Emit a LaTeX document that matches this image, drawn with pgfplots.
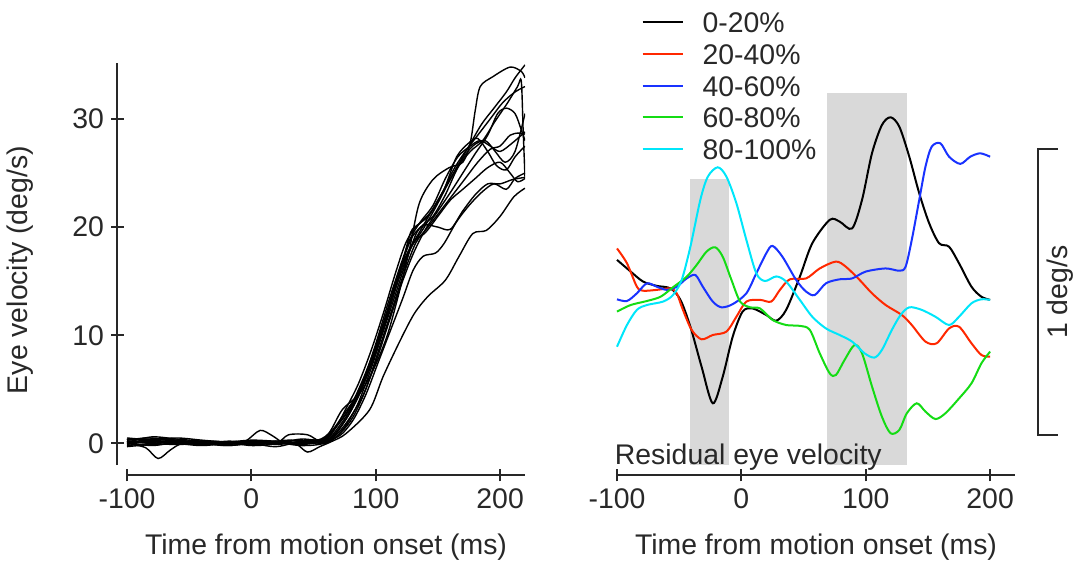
\documentclass[border=0pt]{standalone}
\usepackage{fontspec}
\setmainfont{Liberation Sans}
\usepackage{pgfplots}
\pgfplotsset{compat=1.18}
\newcommand{\myfont}{\fontsize{14.2}{17}\selectfont}
\definecolor{cRed}{RGB}{255,40,0}
\definecolor{cBlue}{RGB}{25,50,255}
\definecolor{cGreen}{RGB}{20,220,20}
\definecolor{cCyan}{RGB}{0,230,250}
\definecolor{cGray}{RGB}{217,217,217}
\definecolor{cText}{RGB}{40,40,40}
\begin{document}
\begin{tikzpicture}
\useasboundingbox (-63.5pt,-49.5pt) rectangle (474pt,232.5pt);
\pgfplotsset{
  common/.style={
    width=199pt, height=200.85pt, scale only axis,
    xmin=-100, xmax=220,
    xtick={-100,0,100,200}, xticklabels={-100,0,100,200},
    tick align=outside, major tick length=6.25pt,
    tick style={line width=1pt, cText},
    tick label style={font=\myfont, text=cText},
    label style={font=\myfont, text=cText},
    xlabel={Time from motion onset (ms)},
    xlabel style={at={(rel axis cs:0.5,-0.2216)}, anchor=base},
  },
  trace/.style={black, line width=0.7pt, smooth, tension=0.5},
  resid/.style={line width=1pt, smooth, tension=0.5},
}
% ---------------- left panel ----------------
\begin{axis}[common,
  ymin=-2.0, ymax=35.15,
  axis lines=left,
  axis line style={-, line width=1pt, draw=cText},
  axis x line shift=5pt,
  axis y line shift=4.85pt,
  ytick={0,10,20,30}, yticklabels={0,10,20,30},
  ylabel={Eye velocity (deg/s)},
  ylabel style={at={(rel axis cs:-0.2676,0.485)}, anchor=center},
]
\addplot[trace] coordinates {(-100,0.3) (-85,0.5) (-70,0.4) (-50,0.2) (-30,0.1) (-10,0) (10,0.1) (30,0.3) (50,0.2) (62,0.9) (73,3.1) (87,4.6) (98,6.8) (109,9.9) (118,13.6) (127,17.9) (135,22.2) (146,24.4) (159,25.5) (170,26.0) (176,27.8) (180,30.8) (184,33.0) (194,33.9) (208,34.8) (217,34.4) (220,33.8)};
\addplot[trace] coordinates {(-100,0.2) (-80,0.1) (-60,0.3) (-40,0) (-20,-0.2) (0,0) (20,0.2) (40,0) (55,0.2) (65,1.2) (75,2.8) (85,4.5) (95,7.0) (105,10.5) (115,14.5) (125,17.5) (135,19.5) (145,21.5) (155,23.5) (165,25.5) (175,27.5) (185,29.5) (195,31.0) (205,32.5) (212,33.8) (220,35.0)};
\addplot[trace] coordinates {(-100,-0.1) (-80,0.3) (-60,0.5) (-40,0.3) (-20,0.1) (0,-0.1) (20,0) (40,0.1) (58,0.3) (68,1.5) (78,3.0) (88,5.0) (98,8.0) (108,11.5) (118,15.5) (128,18.8) (136,20.0) (146,21.0) (156,23.0) (166,25.5) (176,27.0) (186,28.0) (196,29.8) (206,31.5) (214,33.0) (217,33.5) (218.5,29) (220,24.6)};
\addplot[trace] coordinates {(-100,0.4) (-80,0.2) (-60,0) (-40,-0.2) (-20,0) (0,0.2) (20,0.1) (40,-0.2) (58,0) (70,1.0) (80,2.5) (90,4.5) (100,7.5) (110,11.0) (120,14.5) (130,17.5) (140,19.8) (150,21.5) (160,23.2) (170,25.0) (180,26.8) (190,28.5) (198,30.5) (205,31.0) (212,30.5) (217,29.0) (220,28.0)};
\addplot[trace] coordinates {(-100,0) (-85,-0.4) (-75,-1.4) (-65,-0.6) (-55,0) (-30,0.2) (-10,0) (10,0.1) (30,0) (50,0.3) (60,0.5) (70,1.8) (80,3.5) (90,6.0) (100,9.0) (110,12.5) (120,16.0) (128,19.5) (135,20.3) (145,21.5) (155,23.5) (165,26.5) (175,27.8) (182,28.2) (190,27.0) (197,25.7) (205,25.3) (212,26.5) (220,27.5)};
\addplot[trace] coordinates {(-100,0.1) (-80,-0.2) (-60,0.1) (-40,0.2) (-20,-0.1) (-5,0.2) (7,1.2) (17,0.7) (27,0) (40,0.2) (60,0.1) (72,1.0) (82,2.5) (92,5) (102,8.5) (112,12) (122,15.5) (132,18.5) (142,20.0) (152,21.5) (162,23.0) (172,24.5) (182,26.0) (192,27.2) (200,27.5) (208,28.5) (215,28.7) (220,28.6)};
\addplot[trace] coordinates {(-100,0.2) (-80,0) (-60,-0.1) (-40,0) (-20,0.1) (0,-0.2) (20,0) (30,0.8) (45,0.8) (55,0.2) (65,0.3) (75,1.5) (85,3.5) (95,6.5) (105,10.0) (115,13.5) (125,17.0) (133,19.5) (140,20.2) (150,20.0) (160,19.8) (170,21.5) (180,23.0) (190,24.0) (200,24.0) (210,24.4) (220,24.6)};
\addplot[trace] coordinates {(-100,0) (-80,0.2) (-60,0.1) (-40,-0.1) (-20,0) (0,0.1) (20,-0.1) (35,0) (45,-0.8) (55,-0.3) (65,0.2) (76,0.9) (95,3.1) (106,6.2) (120,9.6) (131,12.0) (142,13.6) (156,15.1) (167,17.3) (178,19.4) (189,19.7) (200,21.0) (211,22.8) (220,23.6)};
\addplot[trace] coordinates {(-100,-0.2) (-80,0) (-60,0.2) (-40,0.1) (-20,-0.2) (0,0) (20,0.1) (40,-0.1) (60,0.2) (72,0.8) (82,2.2) (92,4.5) (102,7.5) (112,10.5) (122,13.5) (130,16.0) (138,17.3) (148,17.6) (155,18.5) (165,20.5) (175,22.0) (185,23.2) (195,24.0) (205,23.5) (212,24.5) (220,25.0)};
\addplot[trace] coordinates {(-100,0.3) (-80,0.4) (-60,0.2) (-40,0) (-20,0.1) (0,0.3) (20,0.2) (40,0.1) (58,0.1) (68,1.0) (78,2.6) (88,4.8) (98,7.8) (108,11.3) (118,15.0) (128,18.0) (138,19.8) (148,21.8) (158,24.0) (168,26.0) (178,27.5) (188,28.0) (196,27.0) (204,26.0) (212,27.0) (220,30.5)};
\addplot[trace] coordinates {(-100,-0.3) (-80,-0.1) (-60,0) (-40,0.2) (-20,0.1) (0,0) (20,-0.3) (40,0.2) (60,0.4) (68,1.5) (76,3.2) (86,5.5) (96,8.5) (106,12.0) (116,15.8) (124,18.5) (132,20.0) (142,21.0) (152,22.8) (162,25.2) (172,27.0) (182,28.5) (192,30.0) (202,31.5) (212,32.5) (220,33.0)};
\addplot[trace] coordinates {(-100,0.1) (-80,0.6) (-60,0.4) (-40,0.2) (-20,0) (0,-0.1) (20,0.1) (40,0.3) (60,0.0) (70,1.2) (80,3.0) (90,5.5) (100,8.8) (110,12.5) (120,16.0) (130,18.5) (140,19.5) (150,21.0) (160,22.5) (170,23.5) (180,24.5) (190,25.5) (200,26.0) (208,25.0) (214,24.2) (220,24.5)};
\addplot[trace] coordinates {(-100,0.5) (-80,0.3) (-60,0.1) (-40,-0.1) (-20,0.2) (0,0.1) (20,0) (40,0.4) (60,0.3) (70,1.5) (80,3.2) (90,5.8) (100,9.2) (110,13.0) (120,16.5) (128,19.0) (136,20.5) (146,22.0) (156,24.5) (166,26.5) (176,27.5) (184,28.0) (192,27.5) (200,27.0) (210,27.8) (220,28.8)};
\end{axis}
% ---------------- right panel ----------------
\begin{axis}[common, at={(245pt,0pt)}, anchor=south west,
  ymin=-0.105, ymax=1.301,
  axis x line=bottom, axis y line=none,
  axis line style={-, line width=1pt, draw=cText},
  x axis line style={-},
  every outer x axis line/.append style={-},
  every inner x axis line/.append style={-},
  axis x line shift=5pt,
  ytick=\empty, clip=false,
  legend style={at={(0.0619,1.1284)}, anchor=north west, draw=none, fill=none,
    inner sep=0pt, outer sep=0pt, font=\myfont, text=cText,
    row sep=5.35pt, column sep=9.5pt,
    nodes={inner sep=0pt, text height=10.5pt, text depth=0pt}},
  legend cell align=left,
  legend image code/.code={\draw[#1, line width=1pt] (0pt,0pt) -- (20pt,0pt);},
]
\addplot[fill=cGray, draw=none, forget plot] coordinates {(-41.3,-0.105) (-10.1,-0.105) (-10.1,0.896) (-41.3,0.896)};
\addplot[fill=cGray, draw=none, forget plot] coordinates {(68.5,-0.105) (133.3,-0.105) (133.3,1.196) (68.5,1.196)};
\addplot[resid, black] coordinates {(-100,0.613) (-89,0.572) (-79,0.537) (-68,0.522) (-57,0.513) (-49,0.473) (-41,0.379) (-32,0.239) (-23,0.111) (-15,0.204) (-7,0.344) (1,0.432) (9,0.443) (20,0.420) (28,0.400) (36,0.438) (47,0.554) (57,0.671) (71,0.753) (79,0.747) (89,0.723) (97,0.823) (105,0.986) (113,1.085) (120,1.112) (127,1.079) (135,0.974) (143,0.846) (151,0.741) (159,0.671) (167,0.659) (175,0.601) (185,0.519) (193,0.484) (200,0.473)};
\addlegendentry{0-20\%}
\addplot[resid, cRed] coordinates {(-100,0.653) (-92,0.601) (-84,0.519) (-79,0.505) (-68,0.508) (-57,0.513) (-52,0.496) (-47,0.438) (-40,0.368) (-32,0.335) (-23,0.350) (-12,0.362) (-4,0.414) (4,0.467) (15,0.473) (24,0.467) (31,0.508) (39,0.545) (52,0.548) (63,0.583) (76,0.607) (84,0.589) (95,0.543) (105,0.496) (116,0.455) (129,0.420) (137,0.385) (148,0.327) (157,0.321) (167,0.373) (175,0.379) (185,0.321) (193,0.280) (200,0.274)};
\addlegendentry{20-40\%}
\addplot[resid, cBlue] coordinates {(-100,0.475) (-92,0.469) (-84,0.496) (-76,0.531) (-68,0.519) (-60,0.508) (-52,0.519) (-44,0.548) (-37,0.560) (-31,0.519) (-23,0.467) (-16,0.447) (-7,0.458) (4,0.496) (12,0.566) (20,0.636) (25,0.662) (33,0.624) (44,0.543) (52,0.502) (59,0.490) (68,0.531) (79,0.545) (89,0.548) (100,0.572) (116,0.583) (127,0.575) (132,0.589) (137,0.683) (143,0.823) (148,0.939) (153,1.009) (160,1.021) (167,0.974) (176,0.949) (184,0.974) (192,0.986) (200,0.974)};
\addlegendentry{40-60\%}
\addplot[resid, cGreen] coordinates {(-100,0.432) (-89,0.455) (-76,0.469) (-65,0.484) (-55,0.517) (-44,0.554) (-36,0.595) (-28,0.642) (-21,0.657) (-15,0.624) (-8,0.543) (-1,0.467) (7,0.447) (15,0.443) (25,0.403) (36,0.385) (47,0.382) (55,0.368) (63,0.286) (71,0.216) (76,0.210) (83,0.263) (91,0.315) (97,0.286) (105,0.170) (113,0.064) (120,0.006) (127,0.018) (133,0.076) (141,0.111) (148,0.082) (156,0.056) (164,0.076) (175,0.128) (185,0.181) (193,0.251) (200,0.292)};
\addlegendentry{60-80\%}
\addplot[resid, cCyan] coordinates {(-100,0.309) (-92,0.385) (-84,0.438) (-76,0.455) (-63,0.467) (-55,0.490) (-48,0.543) (-41,0.659) (-33,0.823) (-27,0.904) (-19,0.937) (-12,0.904) (-4,0.811) (4,0.683) (12,0.566) (19,0.539) (28,0.555) (36,0.537) (47,0.473) (57,0.414) (68,0.373) (79,0.350) (89,0.327) (99,0.286) (107,0.271) (113,0.298) (121,0.368) (128,0.420) (135,0.447) (145,0.438) (156,0.414) (167,0.385) (175,0.414) (185,0.461) (193,0.475) (200,0.473)};
\addlegendentry{80-100\%}
\addplot[cText, line width=1pt, forget plot] coordinates {(254.2,1) (238.2,1) (238.2,0) (254.2,0)};
\node[rotate=90, font=\myfont, text=cText, inner sep=0pt] at (axis cs:256,0.5) {1 deg/s};
\node[anchor=base west, font=\myfont, text=cText, inner sep=0pt] at (axis cs:-102,-0.103) {Residual eye velocity};
\end{axis}
\end{tikzpicture}
\end{document}
